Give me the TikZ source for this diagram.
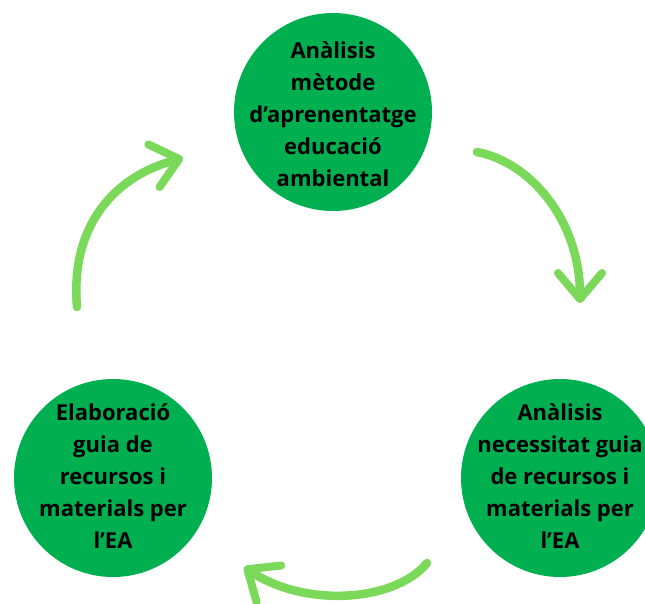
\documentclass[tikz,border=0pt]{standalone}
\usepackage{fontspec}
\setmainfont{Open Sans}
\usetikzlibrary{arrows.meta}
\definecolor{disc}{RGB}{0,176,80}
\definecolor{brush}{RGB}{122,217,88}
\tikzset{
  disk/.style={fill=disc},
  stage/.style={inner sep=0pt, align=center,
    font=\bfseries\fontsize{22}{32}\selectfont},
  cycle/.style={draw=brush, line width=8.5pt, line cap=round,
    -{Straight Barb[length=26pt,width=44pt,line width=8pt,round]}}
}

\begin{document}
\begin{tikzpicture}[x=1pt,y=-1pt]
\useasboundingbox (0,0) rectangle (645,603);
% discs
\fill[disk] (333,112) circle (99);
\fill[disk] (560,478) circle (99);
\fill[disk] (113,478) circle (99);
% texts
\node[stage] (metode) at (333,114) {Anàlisis\\mètode\\d’aprenentatge\\educació\\ambiental};
\node[stage] (necessitat) at (560,476) {Anàlisis\\necessitat guia\\de recursos i\\materials per\\l’EA};
\node[stage] (guia) at (113,476) {Elaboració\\guia de\\recursos i\\materials per\\l’EA};
% arrows
\coordinate (a1) at (477,152);
\coordinate (b1) at (580,303);
\coordinate (a2) at (427,563);
\coordinate (b2) at (244,567);
\coordinate (a3) at (77,307);
\coordinate (b3) at (183,158);
\draw[cycle] (a1) .. controls (530,162) and (580,220) .. (b1);
\draw[cycle] (a2) .. controls (395,602) and (305,608) .. (b2);
\draw[cycle] (a3) .. controls (70,225) and (115,176) .. (b3);
\end{tikzpicture}
\end{document}
